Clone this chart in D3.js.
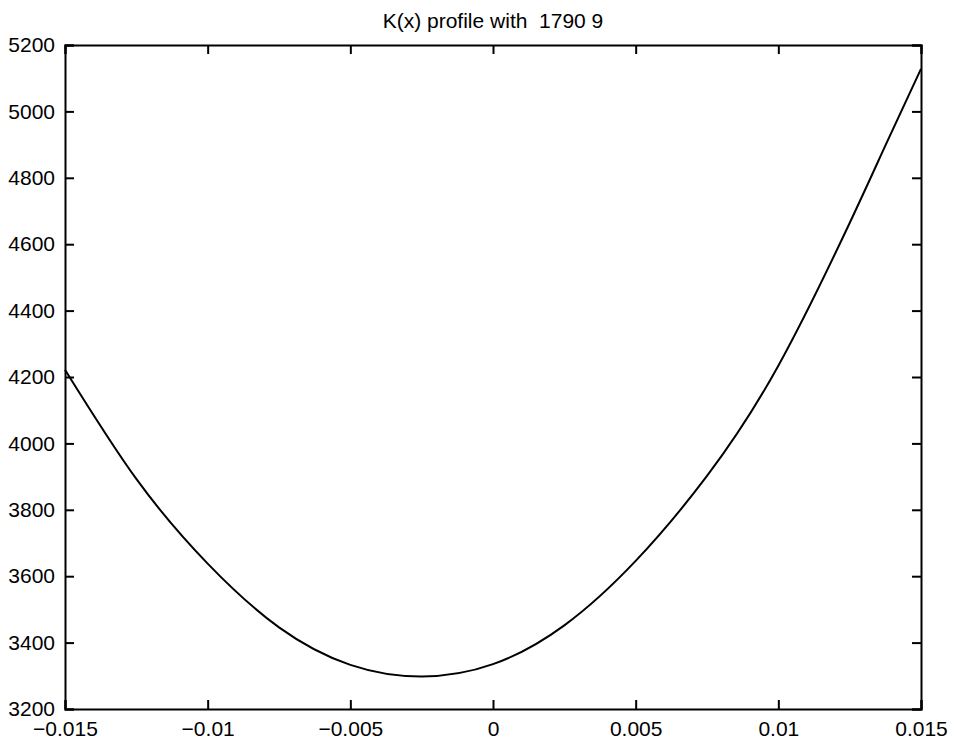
<!DOCTYPE html>
<html>
<head>
<meta charset="utf-8">
<script src="https://cdn.jsdelivr.net/npm/d3@7"></script>
<style>
    body { margin: 0; background: #fff; }
    #chart { width: 954px; height: 742px; }
    .axis text { font-family: "Liberation Sans", Arial, sans-serif; font-size: 21px; fill: #000; }
    .title { font-family: "Liberation Sans", Arial, sans-serif; font-size: 21px; fill: #000; white-space: pre; }
</style>
</head>
<body>
<div id="chart"></div>
<script>
// values
const xVals = [-0.015, -0.0125, -0.01, -0.0075, -0.005, -0.0025, 0,
    0.0025, 0.005, 0.0075, 0.01, 0.0125, 0.01375, 0.015];
const kVals = [4222, 3893, 3638, 3446, 3333, 3298, 3335,
    3452, 3646, 3902, 4234, 4664, 4897, 5128];
const xTicks = [-0.015, -0.01, -0.005, 0, 0.005, 0.01, 0.015];
const yTicks = [3200, 3400, 3600, 3800, 4000, 4200, 4400, 4600, 4800, 5000, 5200];
const titleText = "K(x) profile with  1790 9";

const w = 954, h = 742;
const margin = { top: 45, right: 33, bottom: 33, left: 65 };

const svg = d3.select("#chart").append("svg")
    .attr("width", w)
    .attr("height", h);

// SCALES
const x = d3.scaleLinear().domain([-0.015, 0.015]).range([margin.left, w - margin.right]);
const y = d3.scaleLinear().domain([3200, 5200]).range([h - margin.bottom, margin.top]);

const fmt = d => (d < 0 ? "\u2212" : "") + Math.abs(d).toString();

// AXES (MATLAB style, ticks pointing inward on all sides)
const tick = 9;
svg.append("g").attr("class", "x axis")
    .attr("transform", "translate(0," + y(3200) + ")")
    .call(d3.axisBottom(x).tickValues(xTicks).tickSize(-tick).tickPadding(tick + 6).tickFormat(fmt));
svg.append("g").attr("class", "x axis")
    .attr("transform", "translate(0," + y(5200) + ")")
    .call(d3.axisTop(x).tickValues(xTicks).tickSize(-tick).tickFormat(""));
svg.append("g").attr("class", "y axis")
    .attr("transform", "translate(" + x(-0.015) + ",0)")
    .call(d3.axisLeft(y).tickValues(yTicks).tickSize(-tick).tickPadding(tick + 1).tickFormat(d3.format("d")));
svg.append("g").attr("class", "y axis")
    .attr("transform", "translate(" + x(0.015) + ",0)")
    .call(d3.axisRight(y).tickValues(yTicks).tickSize(-tick).tickFormat(""));

svg.selectAll(".axis .domain").attr("stroke", "#000").attr("stroke-width", 2);
svg.selectAll(".axis line").attr("stroke", "#000").attr("stroke-width", 2);
svg.selectAll(".x.axis text").attr("dy", "0.55em");

// LINE
const line = d3.line()
    .x((d, i) => x(xVals[i]))
    .y(d => y(d))
    .curve(d3.curveNatural);

svg.append("path")
    .datum(kVals)
    .attr("fill", "none")
    .attr("stroke", "#000")
    .attr("stroke-width", 2)
    .attr("d", line);

svg.append("text")
    .attr("class", "title")
    .attr("x", (x(-0.015) + x(0.015)) / 2)
    .attr("y", 28)
    .attr("text-anchor", "middle")
    .text(titleText);
</script>
</body>
</html>
